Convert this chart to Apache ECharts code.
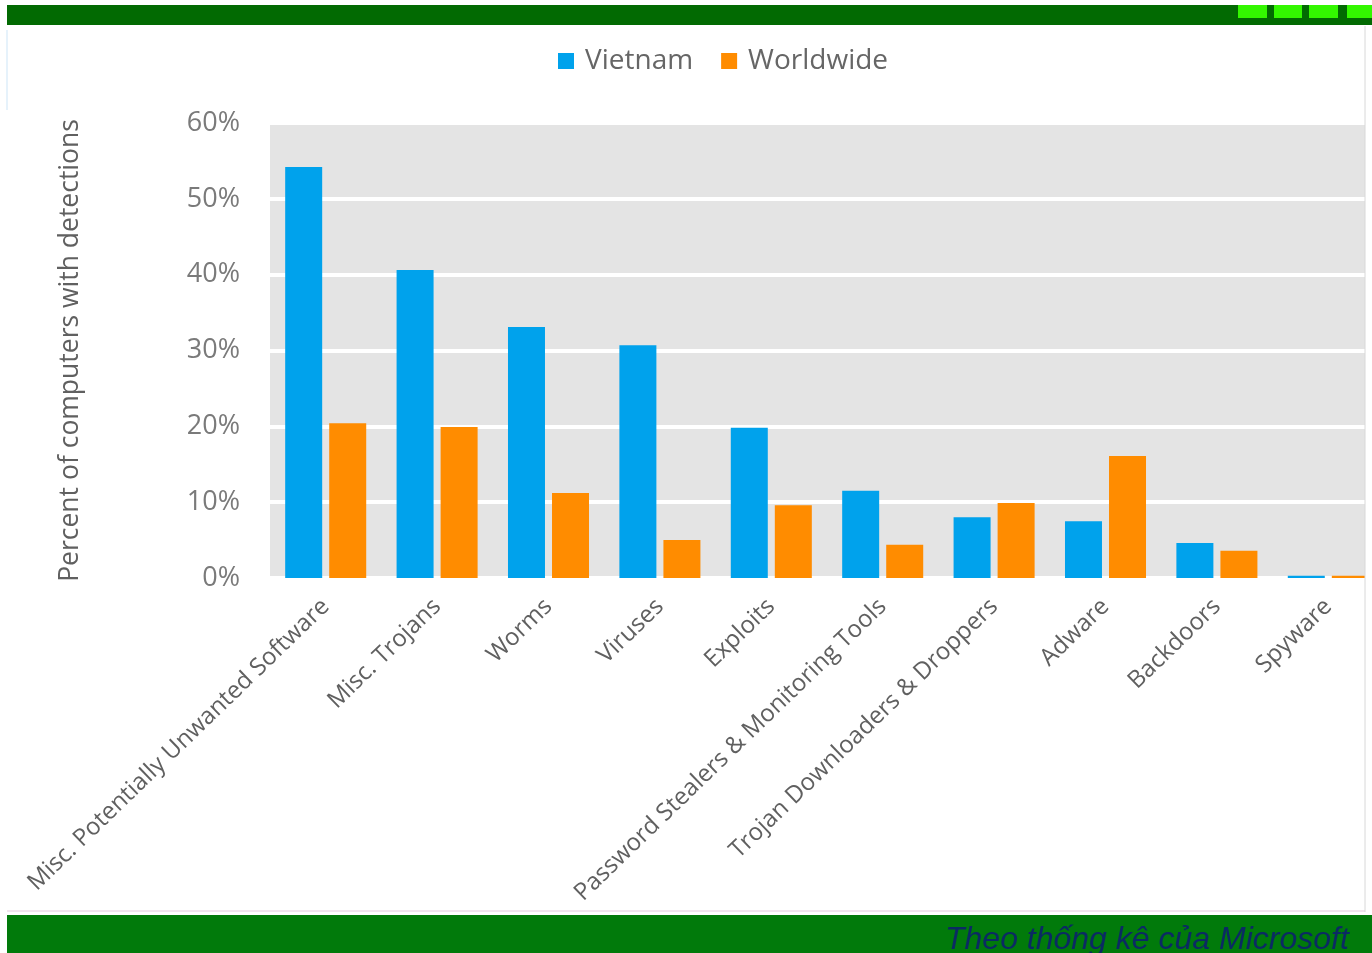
<!DOCTYPE html>
<html>
<head>
<meta charset="utf-8">
<script src="https://cdn.jsdelivr.net/npm/echarts@6/dist/echarts.min.js"></script>
<style>
html,body{margin:0;padding:0;background:#fff;}
#chart{width:1372px;height:953px;}
</style>
</head>
<body>
<div id="chart"></div>
<script>
var categories = ["Misc. Potentially Unwanted Software", "Misc. Trojans", "Worms", "Viruses", "Exploits",
	"Password Stealers & Monitoring Tools", "Trojan Downloaders & Droppers", "Adware", "Backdoors", "Spyware"]
var vietnam = [54.2, 40.6, 33.1, 30.7, 19.8, 11.5, 8.0, 7.5, 4.6, 0.3]
var worldwide = [20.4, 19.9, 11.2, 5.0, 9.6, 4.4, 9.9, 16.1, 3.6, 0.3]
var yTicks = [0, 10, 20, 30, 40, 50, 60]

var font = "'Open Sans', 'DejaVu Sans', sans-serif"
var myChart = echarts.init(document.getElementById("chart"))
var option = {
	animation: false,
	backgroundColor: "#ffffff",
	textStyle: { fontFamily: font },
	graphic: [
		// top green band
		{ type: "rect", shape: { x: 7, y: 5, width: 1365, height: 20 }, style: { fill: "#026a02" }, z: -1 },
		{ type: "rect", shape: { x: 1238, y: 5, width: 29, height: 13 }, style: { fill: "#33f700" } },
		{ type: "rect", shape: { x: 1274, y: 5, width: 28, height: 13 }, style: { fill: "#33f700" } },
		{ type: "rect", shape: { x: 1309, y: 5, width: 29, height: 13 }, style: { fill: "#33f700" } },
		{ type: "rect", shape: { x: 1347, y: 5, width: 25, height: 13 }, style: { fill: "#33f700" } },
		// frame edges
		{ type: "rect", shape: { x: 1365, y: 26, width: 7, height: 886 }, style: { fill: "#ffffff" }, z: 100 },
		{ type: "line", shape: { x1: 1365, y1: 26, x2: 1365, y2: 912 }, style: { stroke: "#d8d8d8", lineWidth: 1 }, z: 101 },
		{ type: "line", shape: { x1: 7, y1: 30, x2: 7, y2: 110 }, style: { stroke: "#e6f2fb", lineWidth: 2 } },
		{ type: "line", shape: { x1: 7, y1: 911, x2: 1365, y2: 911 }, style: { stroke: "#f0e4ee", lineWidth: 2 } },
		// bottom green band
		{ type: "rect", shape: { x: 7, y: 915, width: 1365, height: 38 }, style: { fill: "#017a0b" }, z: 100 },
		{
			type: "text", left: 945, top: 924, z: 101,
			style: {
				text: "Theo thống kê của Microsoft", fill: "#0b2a63",
				font: "italic 32px 'Liberation Sans', Arial, sans-serif"
			}
		}
	],
	legend: {
		top: 42,
		left: 553,
		itemWidth: 16,
		itemHeight: 16,
		itemGap: 28,
		icon: "rect",
		textStyle: { fontSize: 28, color: "#666666", fontFamily: font, padding: [0, 0, 0, 6] },
		data: ["Vietnam", "Worldwide"]
	},
	grid: {
		left: 270,
		right: -12,
		top: 123,
		bottom: 375,
		outerBoundsMode: "none",
		containLabel: false,
		show: true,
		backgroundColor: "#e4e4e4",
		borderWidth: 0
	},
	xAxis: {
		type: "category",
		data: categories,
		axisLine: { show: false },
		axisTick: { show: false },
		axisLabel: {
			interval: 0,
			rotate: 44,
			margin: 25,
			fontSize: 24,
			color: "#606060",
			fontFamily: font
		}
	},
	yAxis: {
		type: "value",
		min: 0,
		max: yTicks[yTicks.length - 1],
		interval: 10,
		name: "Percent of computers with detections",
		nameLocation: "middle",
		nameGap: 186,
		nameTextStyle: { fontSize: 26.5, color: "#606060", fontFamily: font },
		axisLine: { show: false },
		axisTick: { show: false },
		axisLabel: {
			margin: 30,
			fontSize: 27,
			color: "#7a7a7a",
			fontFamily: font,
			formatter: function (v) { return v + "%" }
		},
		splitLine: { lineStyle: { color: "#ffffff", width: 4 } }
	},
	series: [
		{
			name: "Vietnam",
			type: "bar",
			barWidth: 37,
			barGap: "19%",
			itemStyle: { color: "#00a2ec" },
			data: vietnam
		},
		{
			name: "Worldwide",
			type: "bar",
			barWidth: 37,
			itemStyle: { color: "#ff8c00" },
			data: worldwide
		}
	]
}
myChart.setOption(option)
</script>
</body>
</html>
